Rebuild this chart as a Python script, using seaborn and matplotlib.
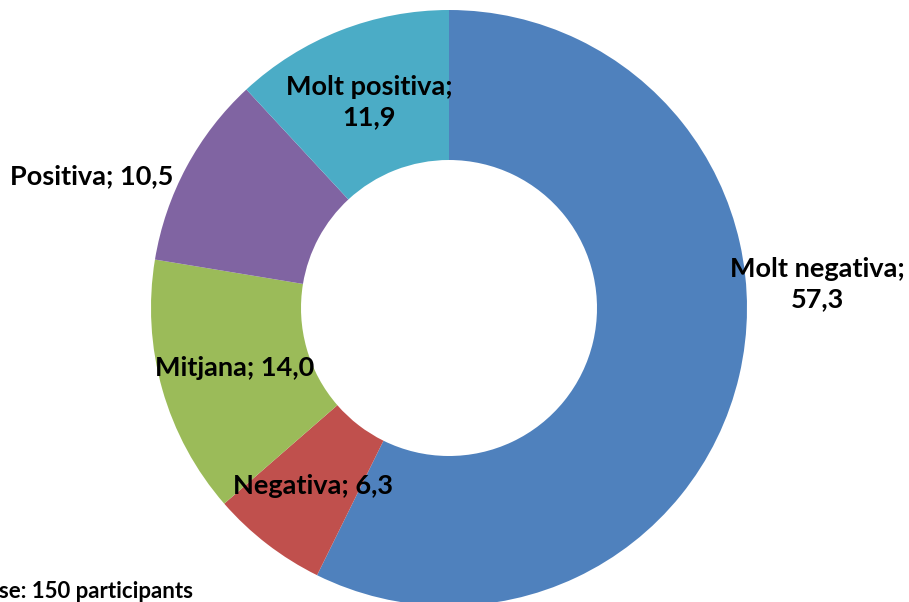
import matplotlib
matplotlib.use("Agg")
import matplotlib.pyplot as plt
import seaborn as sns

# data
categories = ["Molt negativa", "Negativa", "Mitjana", "Positiva", "Molt positiva"]
values = [57.3, 6.3, 14.0, 10.5, 11.9]
colors = ["#4F81BD", "#C0504D", "#9BBB59", "#8064A2", "#4BACC6"]
base_note = "Base: 150 participants"

sns.set_theme(style="white")
plt.rcParams["font.family"] = ["Lato", "DejaVu Sans"]

fig = plt.figure(figsize=(9.09, 6.02), dpi=100)
ax = fig.add_axes([0, 0, 1, 1])
ax.set_xlim(0, 909)
ax.set_ylim(0, 602)
ax.set_aspect("equal")
ax.axis("off")

ax.pie(values, colors=colors, center=(449, 294), radius=298,
       startangle=90, counterclock=False,
       wedgeprops=dict(width=150, linewidth=0))
ax.set_xlim(0, 909)
ax.set_ylim(0, 602)

# label positions in pixels (x, y from top)
label_pos = {
    "Molt negativa": (817, 284, True),
    "Negativa": (313, 486, False),
    "Mitjana": (235, 368, False),
    "Positiva": (92, 176, False),
    "Molt positiva": (369, 102, True),
}
for cat, val in zip(categories, values):
    x, y, two = label_pos[cat]
    sval = f"{val:.1f}".replace(".", ",")
    txt = f"{cat};\n{sval}" if two else f"{cat}; {sval}"
    ax.text(x, 602 - y, txt, ha="center", va="center", fontsize=19.5,
            fontweight="bold", color="black", linespacing=1.3)

ax.text(-27, 4, base_note, ha="left", va="baseline", fontsize=16,
        fontweight="bold", color="black")

fig.savefig("out.png", dpi=100)
